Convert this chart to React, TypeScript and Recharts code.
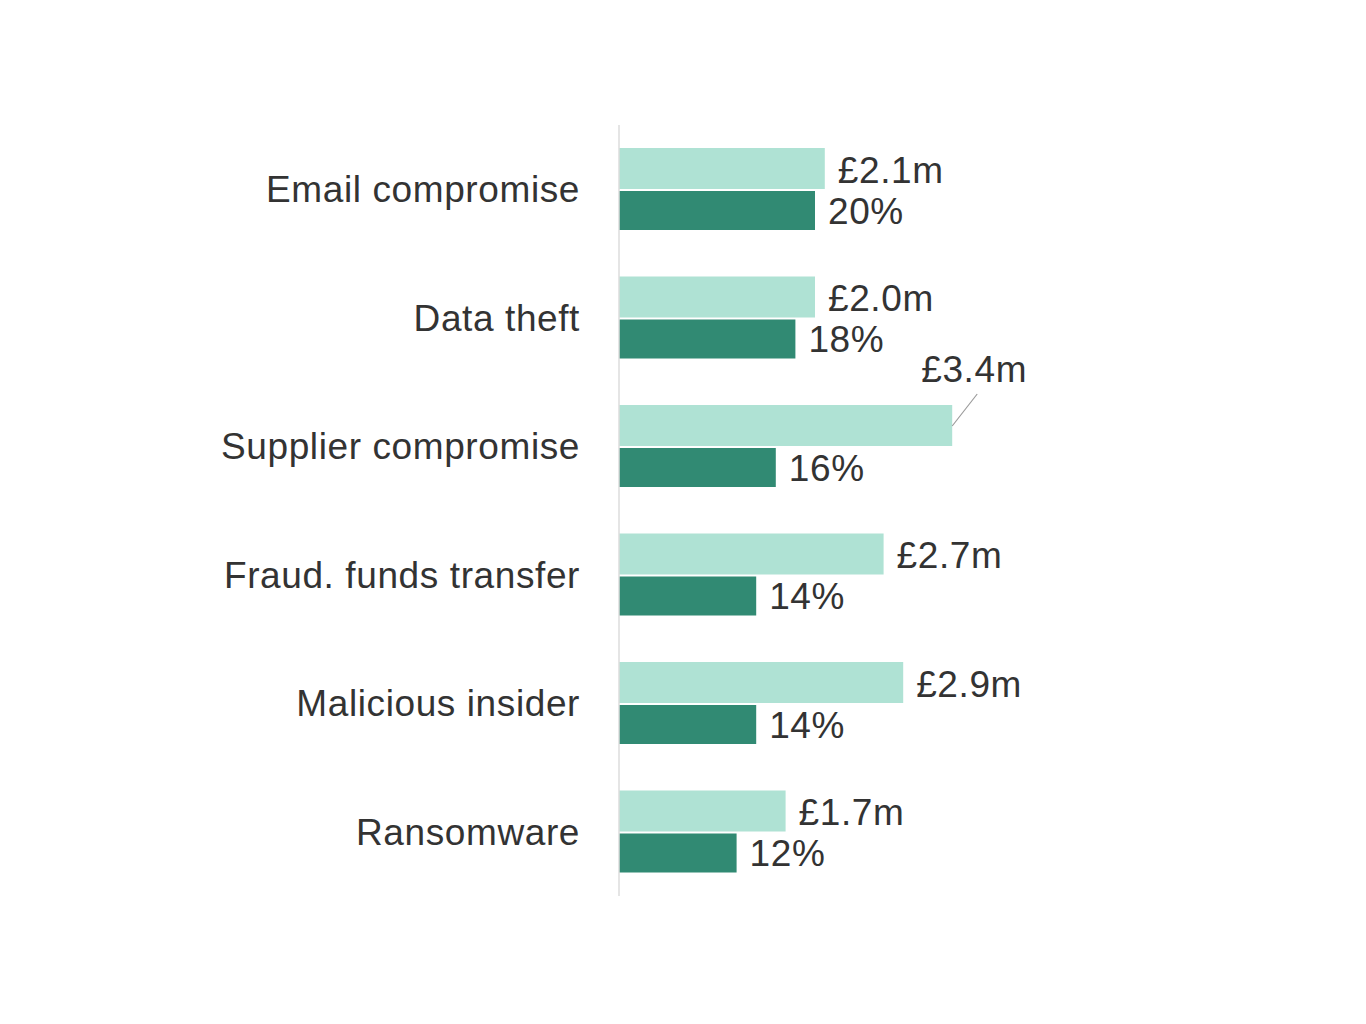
import { BarChart, Bar, XAxis, YAxis, LabelList } from 'recharts';

const categories = [
    'Email compromise',
    'Data theft',
    'Supplier compromise',
    'Fraud. funds transfer',
    'Malicious insider',
    'Ransomware',
];
const costMillions = [2.1, 2.0, 3.4, 2.7, 2.9, 1.7];
const costLabels = ['£2.1m', '£2.0m', '£3.4m', '£2.7m', '£2.9m', '£1.7m'];
const sharePct = [20, 18, 16, 14, 14, 12];
const shareLabels = ['20%', '18%', '16%', '14%', '14%', '12%'];
// label moved above its bar with a leader line
const calloutCategory = 'Supplier compromise';

const data = categories.map((name, i) => ({
    name,
    cost: costMillions[i],
    costLabel: costLabels[i],
    share: sharePct[i],
    shareLabel: shareLabels[i],
}));

const FONT = '"Liberation Sans", Arial, sans-serif';
const FS = 37;
const TEXT = '#333333';

const CostLabel = (props: any) => {
    const { x, y, width, height, value, index } = props;
    const end = x + width;
    if (data[index].name === calloutCategory) {
        return (
            <g>
                <line x1={end + 25} y1={y - 11} x2={end} y2={y + 21} stroke="#9a9a9a" strokeWidth={1.2} />
                <text x={end + 22} y={y - 23} textAnchor="middle" fontFamily={FONT} fontSize={FS} fill={TEXT} letterSpacing={0.6}>
                    {value}
                </text>
            </g>
        );
    }
    return (
        <text x={end + 13} y={y + height / 2 + 14} fontFamily={FONT} fontSize={FS} fill={TEXT} letterSpacing={0.6}>
            {value}
        </text>
    );
};

const ShareLabel = (props: any) => {
    const { x, y, width, height, value } = props;
    return (
        <text x={x + width + 13} y={y + height / 2 + 13} fontFamily={FONT} fontSize={FS} fill={TEXT} letterSpacing={0.6}>
            {value}
        </text>
    );
};

export default function App() {
    return (
        <div style={{ width: 1350, height: 1000, background: '#fff' }}>
            <BarChart
                width={1350}
                height={1000}
                data={data}
                layout="vertical"
                margin={{ top: 117, right: 249, bottom: 112, left: 0 }}
                barGap={2}
            >
                <XAxis xAxisId="cost" type="number" domain={[0, 5]} hide />
                <XAxis xAxisId="share" type="number" domain={[0, 50]} hide />
                <YAxis
                    type="category"
                    dataKey="name"
                    width={611}
                    axisLine={{ stroke: '#dcdcdc', strokeWidth: 1.5 }}
                    tickLine={false}
                    tickSize={0}
                    tickMargin={39}
                    tick={{ fill: TEXT, fontSize: FS, fontFamily: FONT, letterSpacing: 0.6 }}
                />
                <Bar xAxisId="cost" dataKey="cost" fill="#afe2d4" barSize={41} isAnimationActive={false}>
                    <LabelList dataKey="costLabel" content={CostLabel} />
                </Bar>
                <Bar xAxisId="share" dataKey="share" fill="#318a73" barSize={39} isAnimationActive={false}>
                    <LabelList dataKey="shareLabel" content={ShareLabel} />
                </Bar>
            </BarChart>
        </div>
    );
}
